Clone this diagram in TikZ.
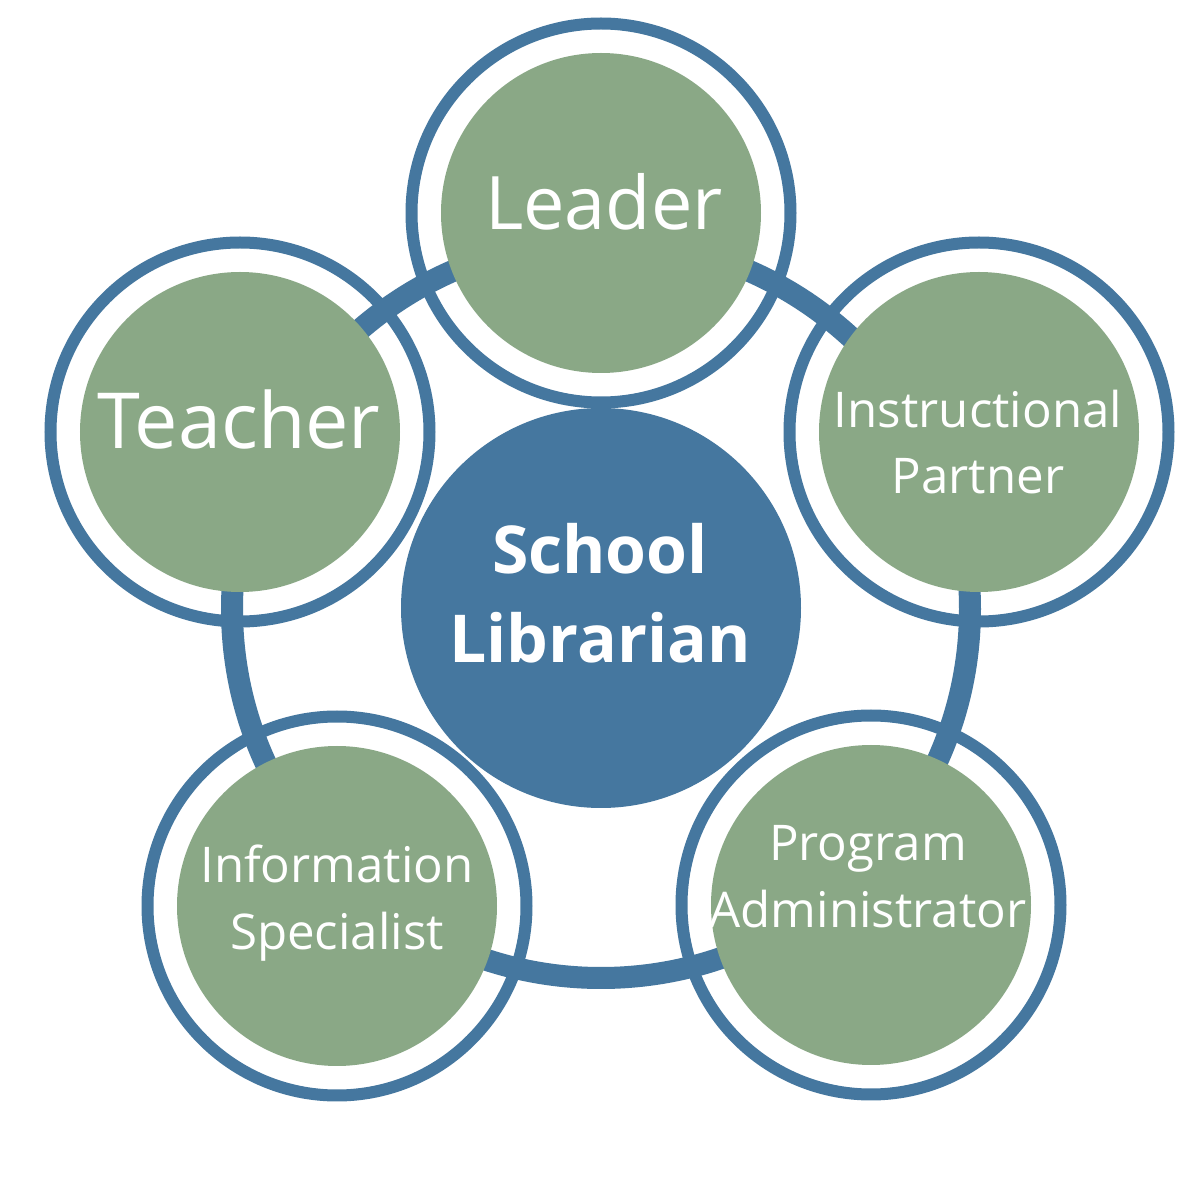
\documentclass[tikz,border=0pt]{standalone}
\usepackage{fontspec}
\setmainfont{Open Sans}
\definecolor{roleblue}{HTML}{45779F}
\definecolor{rolegreen}{HTML}{8AA886}

\begin{document}
\begin{tikzpicture}[
    roleout/.style={circle,draw=roleblue,line width=0.12cm,fill=white,minimum size=3.79cm,inner sep=0pt},
    rolein/.style={circle,fill=rolegreen,minimum size=3.2cm,inner sep=0pt},
    hubcircle/.style={circle,fill=roleblue,minimum size=4cm,inner sep=0pt},
    linkring/.style={draw=roleblue,line width=0.22cm},
    bigtxt/.style={text=white,anchor=base,font=\fontsize{#1}{#1}\selectfont},
    smalltxt/.style={text=white,align=center,font=\fontsize{14}{19}\selectfont},
    hubtxt/.style={text=white,align=center,font=\bfseries\fontsize{18.8}{25.3}\selectfont}
  ]
  \fill[white] (0,0) rectangle (12,12);
  \useasboundingbox (0,0) rectangle (12,12);

  \coordinate (mid) at (6.01,5.91);

  % white rings round the five roles
  \node[roleout] (leaderout) at (6.01,9.87) {};
  \node[roleout] (teacherout) at (2.40,7.68) {};
  \node[roleout] (partnerout) at (9.79,7.68) {};
  \node[roleout] (infoout) at (3.37,2.94) {};
  \node[roleout] (adminout) at (8.71,2.95) {};

  \draw[linkring] (mid) circle (3.69cm);

  \node[rolein] (leader) at (leaderout) {};
  \node[rolein] (teacher) at (teacherout) {};
  \node[rolein] (partner) at (partnerout) {};
  \node[rolein] (info) at (infoout) {};
  \node[rolein] (admin) at (adminout) {};

  \node[hubcircle] (librarian) at (6.01,5.92) {};

  \node[bigtxt=21] (leadertxt) at (6.04,9.70) {Leader};
  \node[bigtxt=22] (teachertxt) at (2.39,7.51) {Teacher};
  \node[smalltxt] (partnertxt) at (9.78,7.58) {Instructional\\Partner};
  \node[smalltxt] (infotxt) at (3.37,2.97) {Information\\Specialist};
  \node[smalltxt] (admintxt) at (8.68,3.23) {Program\\Administrator};
  \node[hubtxt] (librariantxt) at (6.00,6.07) {School\\Librarian};
\end{tikzpicture}
\end{document}
